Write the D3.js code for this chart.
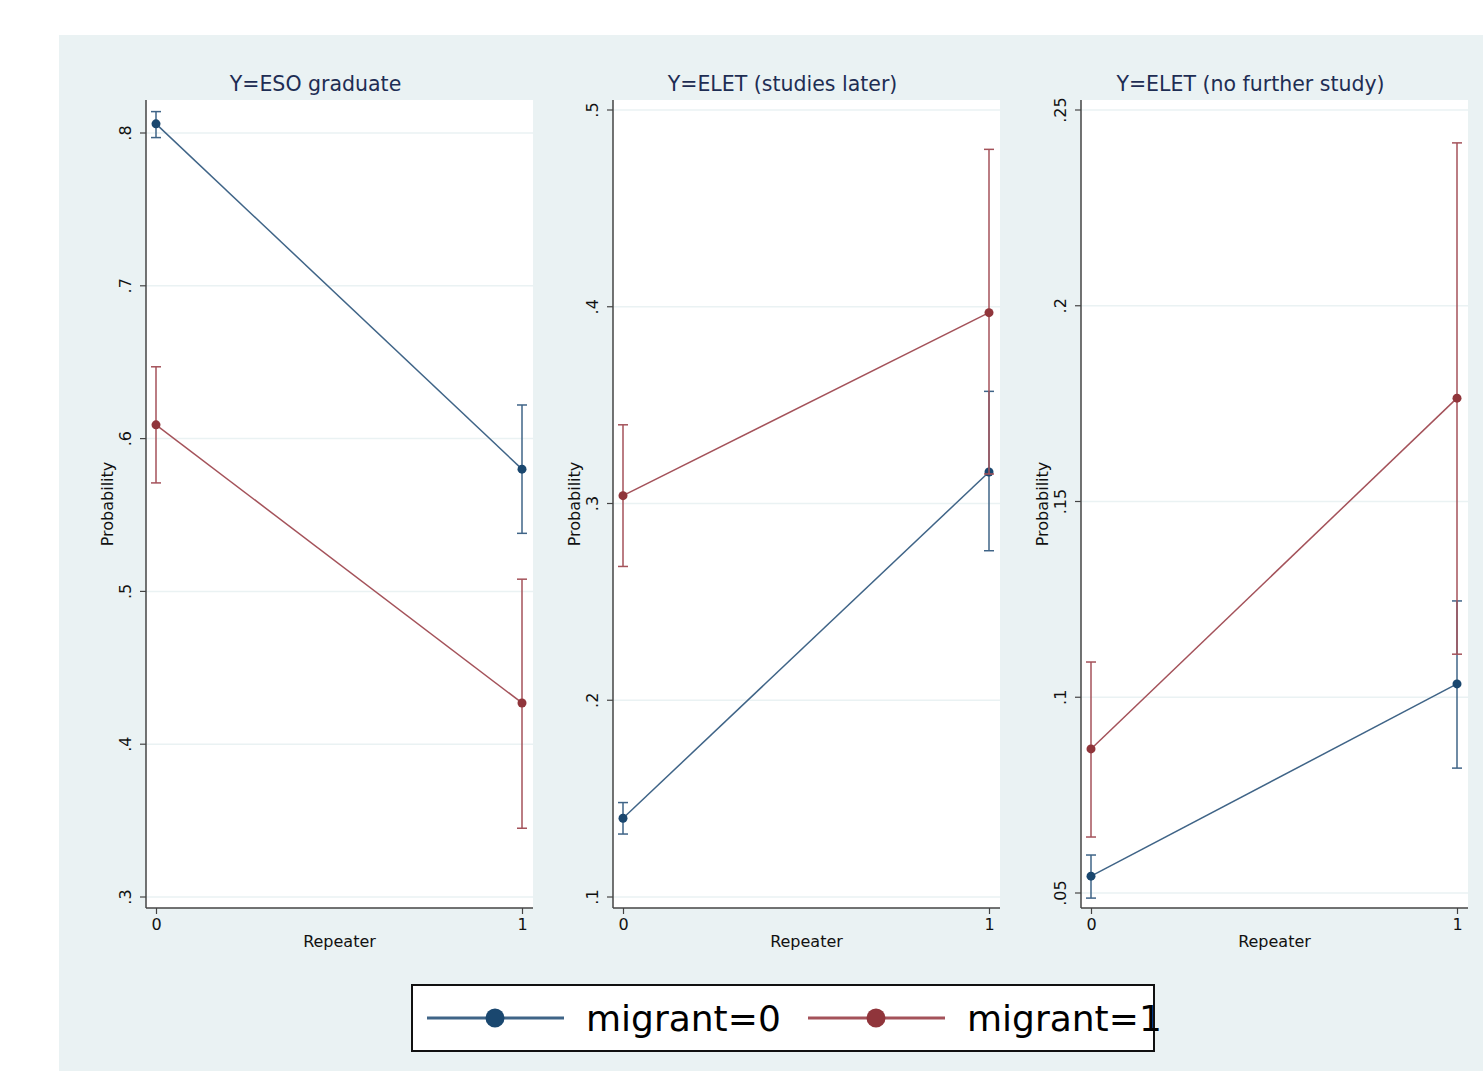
<!DOCTYPE html>
<html><head><meta charset="utf-8">
<script src="https://cdn.jsdelivr.net/npm/d3@7"></script>
<style>html,body{margin:0;padding:0;background:#fff;}svg{display:block;font-family:"DejaVu Sans",sans-serif;}</style>
</head><body><svg id="c" width="1483" height="1071"></svg>
<script>
// ---- data ----
const panelTitles = ["Y=ESO graduate", "Y=ELET (studies later)", "Y=ELET (no further study)"];
const xCategories = [0, 1];
const seriesNames = ["migrant=0", "migrant=1"];
const yTicks1 = [0.3, 0.4, 0.5, 0.6, 0.7, 0.8];
const yTickLabels1 = [".3", ".4", ".5", ".6", ".7", ".8"];
const yTicks2 = [0.1, 0.2, 0.3, 0.4, 0.5];
const yTickLabels2 = [".1", ".2", ".3", ".4", ".5"];
const yTicks3 = [0.05, 0.1, 0.15, 0.2, 0.25];
const yTickLabels3 = [".05", ".1", ".15", ".2", ".25"];
// point estimates [repeater=0, repeater=1]
const p1_m0 = [0.806, 0.580];  const p1_m0_lo = [0.797, 0.538]; const p1_m0_hi = [0.814, 0.622];
const p1_m1 = [0.609, 0.427];  const p1_m1_lo = [0.571, 0.345]; const p1_m1_hi = [0.647, 0.508];
const p2_m0 = [0.140, 0.316];  const p2_m0_lo = [0.132, 0.276]; const p2_m0_hi = [0.148, 0.357];
const p2_m1 = [0.304, 0.397];  const p2_m1_lo = [0.268, 0.315]; const p2_m1_hi = [0.340, 0.480];
const p3_m0 = [0.0543, 0.1034]; const p3_m0_lo = [0.0487, 0.0819]; const p3_m0_hi = [0.0597, 0.1246];
const p3_m1 = [0.0868, 0.1764]; const p3_m1_lo = [0.0643, 0.1110]; const p3_m1_hi = [0.1090, 0.2416];

const colors = ["#1a476f", "#90353b"];
const lineColors = ["#3f6487", "#a4525a"];

const panels = [
  {title: panelTitles[0], ticks: yTicks1, labels: yTickLabels1, dom:[0.3,0.8], rng:[897,133], x0:146, x1:533,
   series:[{v:p1_m0,lo:p1_m0_lo,hi:p1_m0_hi},{v:p1_m1,lo:p1_m1_lo,hi:p1_m1_hi}]},
  {title: panelTitles[1], ticks: yTicks2, labels: yTickLabels2, dom:[0.1,0.5], rng:[897,110], x0:613, x1:1000,
   series:[{v:p2_m0,lo:p2_m0_lo,hi:p2_m0_hi},{v:p2_m1,lo:p2_m1_lo,hi:p2_m1_hi}]},
  {title: panelTitles[2], ticks: yTicks3, labels: yTickLabels3, dom:[0.05,0.25], rng:[893,110], x0:1081, x1:1468,
   series:[{v:p3_m0,lo:p3_m0_lo,hi:p3_m0_hi},{v:p3_m1,lo:p3_m1_lo,hi:p3_m1_hi}]}
];

const svg = d3.select("#c");
svg.append("rect").attr("x",59).attr("y",35).attr("width",1424).attr("height",1036).attr("fill","#eaf2f3");

const plotTop = 100, plotBottom = 908;
panels.forEach(p => {
  const g = svg.append("g");
  g.append("rect").attr("x",p.x0).attr("y",plotTop).attr("width",p.x1-p.x0).attr("height",plotBottom-plotTop).attr("fill","#fff");
  const x = d3.scaleLinear().domain([0,1]).range([p.x0+10, p.x1-11]);
  const y = d3.scaleLinear().domain(p.dom).range(p.rng);
  // grid
  g.selectAll("line.grid").data(p.ticks).enter().append("line")
    .attr("x1",p.x0).attr("x2",p.x1).attr("y1",d=>y(d)).attr("y2",d=>y(d))
    .attr("stroke","#eaf2f3").attr("stroke-width",1.5);
  // y axis
  const ya = d3.axisLeft(y).tickValues(p.ticks).tickFormat((d,i)=>p.labels[i]).tickSize(6).tickPadding(6);
  const yg = g.append("g").attr("transform",`translate(${p.x0},0)`).call(ya);
  yg.select(".domain").remove();
  yg.append("line").attr("x1",0).attr("x2",0).attr("y1",plotTop).attr("y2",plotBottom).attr("stroke","#444").attr("stroke-width",1.5);
  yg.selectAll(".tick").attr("transform",null);
  yg.selectAll(".tick line").attr("stroke","#444").attr("stroke-width",1.2).attr("y1",d=>y(d)).attr("y2",d=>y(d));
  yg.selectAll(".tick text").attr("font-size",16).attr("fill","#111")
    .attr("font-family","DejaVu Sans").attr("text-anchor","middle")
    .attr("transform","rotate(-90)").attr("dy",null)
    .each(function(d){ d3.select(this).attr("x",-y(d)).attr("y",-15); });
  // x axis
  const xa = d3.axisBottom(x).tickValues(xCategories).tickFormat(d3.format("d")).tickSize(6).tickPadding(5);
  const xg = g.append("g").attr("transform",`translate(0,${plotBottom})`).call(xa);
  xg.select(".domain").remove();
  xg.append("line").attr("x1",p.x0).attr("x2",p.x1).attr("y1",0).attr("y2",0).attr("stroke","#444").attr("stroke-width",1.5);
  xg.selectAll(".tick line").attr("stroke","#444").attr("stroke-width",1.2);
  xg.selectAll(".tick text").attr("font-size",16).attr("fill","#111").attr("font-family","DejaVu Sans");
  // labels
  g.append("text").attr("x",(p.x0+p.x1)/2).attr("y",947).attr("text-anchor","middle").attr("font-size",16).attr("fill","#111").text("Repeater");
  g.append("text").attr("transform",`translate(${p.x0-33},504) rotate(-90)`).attr("text-anchor","middle").attr("font-size",16).attr("fill","#111").text("Probability");
  g.append("text").attr("x",(p.x0+p.x1)/2-24).attr("y",91).attr("text-anchor","middle").attr("font-size",20.5).attr("fill","#1e2d53").text(p.title);
  // series
  p.series.forEach((s,si) => {
    const line = d3.line().x((d,i)=>x(xCategories[i])).y(d=>y(d));
    g.append("path").attr("d",line(s.v)).attr("fill","none").attr("stroke",lineColors[si]).attr("stroke-width",1.5);
  });
  p.series.forEach((s,si) => {
    xCategories.forEach((c,i) => {
      const cx = x(c);
      g.append("line").attr("x1",cx).attr("x2",cx).attr("y1",y(s.lo[i])).attr("y2",y(s.hi[i])).attr("stroke",lineColors[si]).attr("stroke-width",1.5);
      [s.lo[i], s.hi[i]].forEach(v => g.append("line").attr("x1",cx-5).attr("x2",cx+5).attr("y1",y(v)).attr("y2",y(v)).attr("stroke",lineColors[si]).attr("stroke-width",1.5));
      g.append("circle").attr("cx",cx).attr("cy",y(s.v[i])).attr("r",4.5).attr("fill",colors[si]);
    });
  });
});

// legend
const lg = svg.append("g");
lg.append("rect").attr("x",412).attr("y",985).attr("width",742).attr("height",66).attr("fill","#fff").attr("stroke","#111").attr("stroke-width",2);
const legX = [427, 808];
seriesNames.forEach((n,i) => {
  const lx = legX[i];
  lg.append("line").attr("x1",lx).attr("x2",lx+137).attr("y1",1018).attr("y2",1018).attr("stroke",lineColors[i]).attr("stroke-width",3);
  lg.append("circle").attr("cx",lx+68).attr("cy",1018).attr("r",9.5).attr("fill",colors[i]);
  lg.append("text").attr("x",lx+159).attr("y",1031).attr("font-size",36).attr("fill","#000").text(n);
});
</script></body></html>
